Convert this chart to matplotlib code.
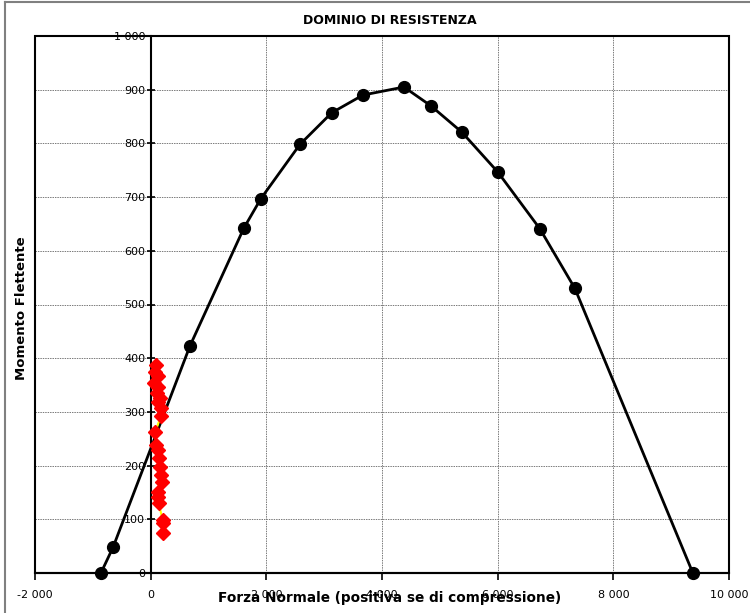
import matplotlib
matplotlib.use("Agg")
import matplotlib.pyplot as plt
from matplotlib.patches import Rectangle
from matplotlib.lines import Line2D
from matplotlib.ticker import FuncFormatter

# Resistance domain boundary (N, M)
dominio_N = [-860, -650, 680, 1610, 1905, 2580, 3130, 3670, 4380, 4845, 5380, 6000, 6730, 7335, 9375]
dominio_M = [0, 48, 423, 642, 697, 798, 857, 890, 905, 870, 821, 747, 641, 530, 0]

# Acting load combinations (N, M)
sollecitazioni_N = [95, 70, 120, 65, 125, 115, 170, 120, 185, 180, 80, 90, 120, 145, 170, 180, 195,
                    125, 135, 140, 205, 210, 220]
sollecitazioni_M = [387, 375, 366, 353, 347, 335, 326, 319, 307, 293, 263, 238, 229, 214, 198, 182, 170,
                    151, 142, 130, 99, 93, 74]

x_ticks = [-2000, 0, 2000, 4000, 6000, 8000, 10000]
y_ticks = [0, 100, 200, 300, 400, 500, 600, 700, 800, 900, 1000]

titolo = "DOMINIO DI RESISTENZA"
etichetta_x = "Forza Normale (positiva se di compressione)"
etichetta_y = "Momento Flettente"

plt.rcParams['font.family'] = ['DejaVu Sans']

fig = plt.figure(figsize=(7.5, 6.13), dpi=100)
ax = fig.add_axes([35 / 750, 1 - 573 / 613, (729 - 35) / 750, (573 - 36) / 613])

ax.set_xlim(x_ticks[0], x_ticks[-1])
ax.set_ylim(y_ticks[0], y_ticks[-1])

# grid
for yv in y_ticks[1:-1]:
    ax.axhline(yv, color='#7a7a7a', lw=0.7, ls=(0, (1.5, 1)), zorder=1)
for xv in x_ticks[2:-1]:
    ax.axvline(xv, color='#7a7a7a', lw=0.7, ls=(0, (1.5, 1)), zorder=1)

# outer frame
ax.add_patch(Rectangle((0, 0), 1, 1, transform=ax.transAxes, fill=False,
                       ec='black', lw=1.5, zorder=3, clip_on=False))

for s in ['top', 'right']:
    ax.spines[s].set_visible(False)
ax.spines['left'].set_position(('data', 0))
ax.spines['left'].set_linewidth(1.5)
ax.spines['bottom'].set_linewidth(1.5)

fmt = FuncFormatter(lambda v, p: f"{int(v):,}".replace(",", " "))
ax.set_xticks(x_ticks)
ax.set_yticks(y_ticks)
ax.xaxis.set_major_formatter(fmt)
ax.yaxis.set_major_formatter(fmt)
ax.tick_params(axis='x', direction='out', length=5, width=1.2, labelsize=8, pad=7)
ax.tick_params(axis='y', direction='inout', length=6, width=1.2, labelsize=8, pad=1)

ax.plot(dominio_N, dominio_M, color='black', lw=2, marker='o', ms=8.5,
        mfc='black', mec='black', zorder=4, clip_on=False)
ax.plot(sollecitazioni_N, sollecitazioni_M, color='#ffff00', lw=1.5, marker='D', ms=7.5,
        mfc='#ff0000', mec='#ff0000', zorder=5)

fig.text(390 / 750, 1 - 20 / 613, titolo, ha='center', va='center',
         fontsize=9, fontweight='bold')
fig.text(390 / 750, 1 - 598 / 613, etichetta_x, ha='center', va='center',
         fontsize=9.8, fontweight='bold')
fig.text(22 / 750, 1 - 308 / 613, etichetta_y, ha='center', va='center',
         fontsize=9.5, fontweight='bold', rotation=90)

# chart border
fig.add_artist(Line2D([5 / 750, 5 / 750], [0, 1 - 2 / 613], color='#808080', lw=1.5))
fig.add_artist(Line2D([5 / 750, 1], [1 - 2 / 613, 1 - 2 / 613], color='#808080', lw=1.5))

fig.savefig("out.png", dpi=100)
